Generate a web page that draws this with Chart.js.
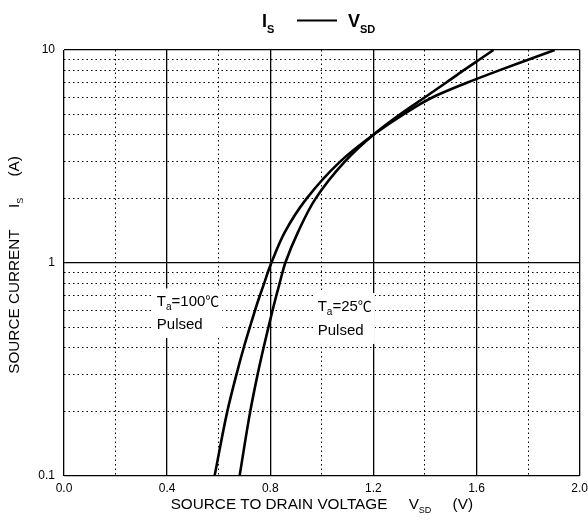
<!DOCTYPE html>
<html><head><meta charset="utf-8">
<script src="https://cdn.jsdelivr.net/npm/chart.js@4.4.1/dist/chart.umd.min.js"></script>
<style>html,body{margin:0;padding:0;background:#fff;overflow:hidden}#wrap{width:593px;height:524px;position:relative}</style>
</head><body><div id="wrap"><canvas id="c"></canvas></div>
<script>
// Source current I_S (A) at which each curve is sampled
const currentA = [0.1,0.2,0.3,0.4,0.5,0.6,0.7,0.8,0.9,1,1.4,2,3,4,5,6,7,8,9,10];
// V_SD (V) for Ta = 100 C, pulsed
const vsd100 = [0.584,0.633,0.669,0.697,0.721,0.741,0.759,0.776,0.790,0.804,0.857,0.940,1.072,1.200,1.318,1.430,1.560,1.685,1.800,1.903];
// V_SD (V) for Ta = 25 C, pulsed
const vsd25  = [0.681,0.722,0.751,0.774,0.793,0.809,0.823,0.836,0.847,0.858,0.908,0.975,1.090,1.200,1.305,1.400,1.480,1.548,1.610,1.666];
// Axis ticks
const xTickValues = [0,0.2,0.4,0.6,0.8,1.0,1.2,1.4,1.6,1.8,2.0];
const xTickLabels = ['0.0','','0.4','','0.8','','1.2','','1.6','','2.0'];
const yTickValues = [0.1,0.2,0.3,0.4,0.5,0.6,0.7,0.8,0.9,1,2,3,4,5,6,7,8,9,10];
const yTickLabels = ['0.1','','','','','','','','','1','','','','','','','','','10'];
const ySolid = [0.1,1,10];

const FONT = '"Liberation Sans", Arial, sans-serif';
const CJK = '"Noto Sans CJK SC", sans-serif';

function fontOf(p) { return (p[2]?'bold ':'') + p[1] + 'px ' + (p[4] || FONT); }
function drawParts(ctx, parts, x, y, align) {
  // parts: [text, fontSize, bold, dy, family]
  let total = 0;
  parts.forEach(p => { ctx.font = fontOf(p); total += ctx.measureText(p[0]).width; });
  let cx = align === 'center' ? x - total/2 : x;
  ctx.textBaseline = 'alphabetic';
  ctx.textAlign = 'left';
  parts.forEach(p => {
    ctx.font = fontOf(p);
    ctx.fillText(p[0], cx, y + (p[3]||0));
    cx += ctx.measureText(p[0]).width;
  });
  return total;
}
function widthOf(ctx, parts) {
  let w = 0;
  parts.forEach(p => { ctx.font = fontOf(p); w += ctx.measureText(p[0]).width; });
  return w;
}

const notes = [
  {v:0.36, l1:0.66, l2:0.517, temp:'=100'},
  {v:0.984, l1:0.628, l2:0.485, temp:'=25'}
];

const textPlugin = {
  id: 'texts',
  beforeDatasetsDraw(chart) {
    const {ctx, scales:{x, y}} = chart;
    ctx.save();
    notes.forEach(n => {
      const px = x.getPixelForValue(n.v);
      const y1 = y.getPixelForValue(n.l1);
      const y2 = y.getPixelForValue(n.l2);
      const parts = [['T',15,false,0],['a',10,false,4],[n.temp,15,false,0],['℃',14,false,0,CJK]];
      const w = widthOf(ctx, parts);
      ctx.fillStyle = '#fff';
      ctx.fillRect(px - 4, y1 - 13, w + 7, (y2 - y1) + 27);
      ctx.fillStyle = '#000';
      drawParts(ctx, parts, px, y1 + 5, 'left');
      drawParts(ctx, [['Pulsed',15,false,0]], px, y2 + 5, 'left');
    });
    ctx.restore();
  },
  afterDraw(chart) {
    const {ctx, chartArea:a} = chart;
    ctx.save();
    ctx.fillStyle = '#000';
    // Title: I_S —— V_SD
    drawParts(ctx, [['I',18,true,0],['S',11,true,6]], 262, 27, 'left');
    ctx.strokeStyle = '#000'; ctx.lineWidth = 2;
    ctx.beginPath(); ctx.moveTo(297, 20.5); ctx.lineTo(337, 20.5); ctx.stroke();
    drawParts(ctx, [['V',18,true,0],['SD',11,true,6]], 348, 27, 'left');
    // X title
    const cx = (a.left + a.right)/2;
    drawParts(ctx, [['SOURCE TO DRAIN VOLTAGE     V',15.3,false,0],['SD',9,false,4],['     (V)',15.3,false,0]], cx, 509, 'center');
    // Y title
    ctx.translate(19, (a.top + a.bottom)/2 + 2);
    ctx.rotate(-Math.PI/2);
    drawParts(ctx, [['SOURCE CURRENT     I',15.3,false,0],['S',9,false,4],['     (A)',15.3,false,0]], 0, 0, 'center');
    ctx.restore();
  }
};

const isMult = (v, s) => Math.abs(v/s - Math.round(v/s)) < 1e-6;
const isSolidY = v => ySolid.some(s => Math.abs(s - v) < 1e-9);

new Chart(document.getElementById('c'), {
  type: 'line',
  data: {
    datasets: [
      { label: 'Ta=100C', data: currentA.map((c,i)=>({x:vsd100[i], y:c})) },
      { label: 'Ta=25C',  data: currentA.map((c,i)=>({x:vsd25[i], y:c})) }
    ]
  },
  options: {
    indexAxis: 'y',
    responsive: true, maintainAspectRatio: false, animation: false,
    layout: { padding: { top: 50, left: 0, right: 0, bottom: 0 } },
    elements: {
      line: { borderColor: '#000', borderWidth: 2.6, cubicInterpolationMode: 'monotone', fill: false },
      point: { radius: 0, hoverRadius: 0 }
    },
    plugins: { legend: { display: false }, title: { display: false }, tooltip: { enabled: false } },
    scales: {
      x: {
        type: 'linear', min: 0, max: 2,
        afterBuildTicks: s => { s.ticks = xTickValues.map(v => ({value: v})); },
        afterFit: s => { s.height = 48; },
        ticks: { autoSkip: false, maxRotation: 0, padding: 5, color: '#000', font: { family: FONT, size: 12 },
          callback: (v, i) => xTickLabels[i] },
        grid: { drawTicks: false, color: '#000',
          lineWidth: c => (c.tick && isMult(c.tick.value, 0.4)) ? 1.3 : 1 },
        border: { display: false, dash: c => (c.tick && !isMult(c.tick.value, 0.4)) ? [1.5, 3] : [] }
      },
      y: {
        type: 'logarithmic', min: 0.1, max: 10,
        afterBuildTicks: s => { s.ticks = yTickValues.map(v => ({value: v})); },
        afterFit: s => { s.width = 64; },
        ticks: { autoSkip: false, padding: 9, color: '#000', font: { family: FONT, size: 12 },
          callback: (v, i) => yTickLabels[i] },
        grid: { drawTicks: false, color: '#000',
          lineWidth: c => (c.tick && isSolidY(c.tick.value)) ? 1.3 : 1 },
        border: { display: false, dash: c => (c.tick && !isSolidY(c.tick.value)) ? [1.5, 3] : [] }
      }
    }
  },
  plugins: [textPlugin]
});
</script>
</body></html>
